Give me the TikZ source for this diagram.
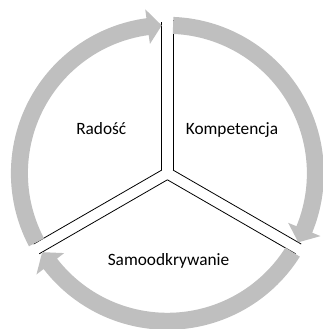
\documentclass[tikz,border=0pt]{standalone}
\usepackage{fontspec}
\setmainfont{Carlito}
\begin{document}
\begin{tikzpicture}[x=1pt,y=1pt,
  ring/.style={fill=black!25},
  edge/.style={draw=black,line width=0.8pt},
  label/.style={anchor=base,font=\fontsize{17.3}{20}\selectfont}]
\useasboundingbox (-167.4,-155.7) rectangle (155.6,173.3);
\coordinate (R) at (150:6.5);
\coordinate (K) at (30:6.5);
\coordinate (S) at (270:6.5);
\draw[edge] (R)--++(90:148);
\draw[edge] (R)--++(210:148);
\draw[edge] (K)--++(90:150);
\draw[edge] (K)--++(-30:148);
\draw[edge] (S)--++(210:148);
\draw[edge] (S)--++(-30:148);
\foreach \a in {0,120,240}{
  \fill[ring] ({207.8-\a}:156.5) arc[start angle={207.8-\a},end angle={97.7-\a},radius=156.5]
    --({97.7-\a}:165.5)--({92.2-\a}:148)--({97.7-\a}:130.5)--({97.7-\a}:139.5)
    arc[start angle={97.7-\a},end angle={207.8-\a},radius=139.5]--cycle;
}
\node[label] (radosc) at (-66.1,38.3) {Radość};
\node[label] (kompetencja) at (64.6,38.3) {Kompetencja};
\node[label] (samoodkrywanie) at (1.1,-91.7) {Samoodkrywanie};
\end{tikzpicture}
\end{document}
